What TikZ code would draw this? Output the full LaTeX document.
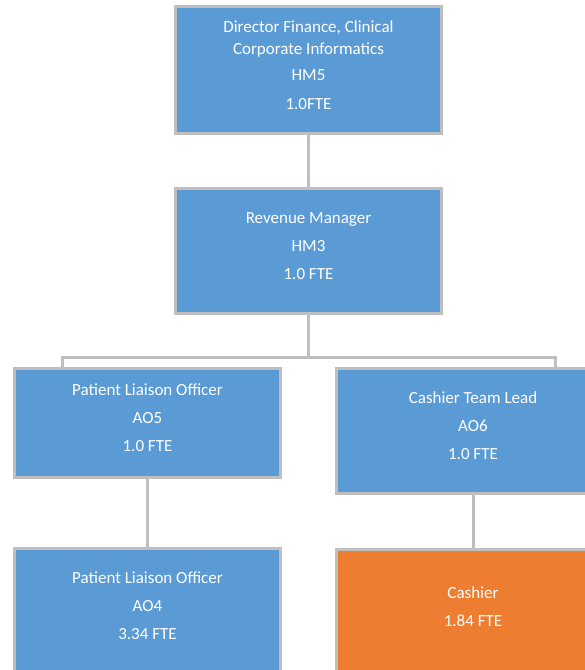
\documentclass[tikz,border=0pt]{standalone}
\usepackage{fontspec}
\setmainfont{Carlito}
\definecolor{boxblue}{HTML}{5B9BD5}
\definecolor{boxorange}{HTML}{ED7D31}
\definecolor{rule}{HTML}{BFBFBF}
\begin{document}
\begin{tikzpicture}[x=1pt,y=-1pt,
  role/.style={draw=rule, line width=3pt, fill=boxblue, text=white,
    inner sep=0pt, align=center, font=\fontsize{17}{22}\selectfont,
    text depth=10.5pt, minimum width=266pt, minimum height=125pt},
  link/.style={draw=rule, line width=3pt}]
\useasboundingbox (0,0) rectangle (585,670);
\clip (0,0) rectangle (585,670);

% junction points of the branch line
\coordinate (bus) at (308.5,357);
\coordinate (jl) at (62,357);
\coordinate (jr) at (555,357);

% boxes
\node[role, minimum height=127pt] (dir) at (308.5,70)
  {Director Finance, Clinical\\Corporate Informatics\\[4pt]HM5\\[7pt]1.0FTE};
\node[role] (rev) at (308.5,251) {Revenue Manager\\[6pt]HM3\\[6pt]1.0 FTE};
\node[role, minimum height=109pt] (plo5) at (147.5,423)
  {Patient Liaison Officer\\[6pt]AO5\\[6pt]1.0 FTE};
\node[role, minimum width=273pt] (ctl) at (473,431)
  {Cashier Team Lead\\[6pt]AO6\\[6pt]1.0 FTE};
\node[role] (plo4) at (147.5,611)
  {Patient Liaison Officer\\[6pt]AO4\\[6pt]3.34 FTE};
\node[role, fill=boxorange, minimum width=273pt] (cash) at (473,612)
  {Cashier\\[6pt]1.84 FTE};

% reporting lines
\draw[link] (dir.south) -- (rev.north);
\draw[link] (rev.south) -- (bus);
\draw[link] (plo5.north -| jl) -- (jl) -- (jr) -- (ctl.north -| jr);
\draw[link] (plo5.south) -- (plo4.north);
\draw[link] (ctl.south) -- (cash.north);
\end{tikzpicture}
\end{document}
